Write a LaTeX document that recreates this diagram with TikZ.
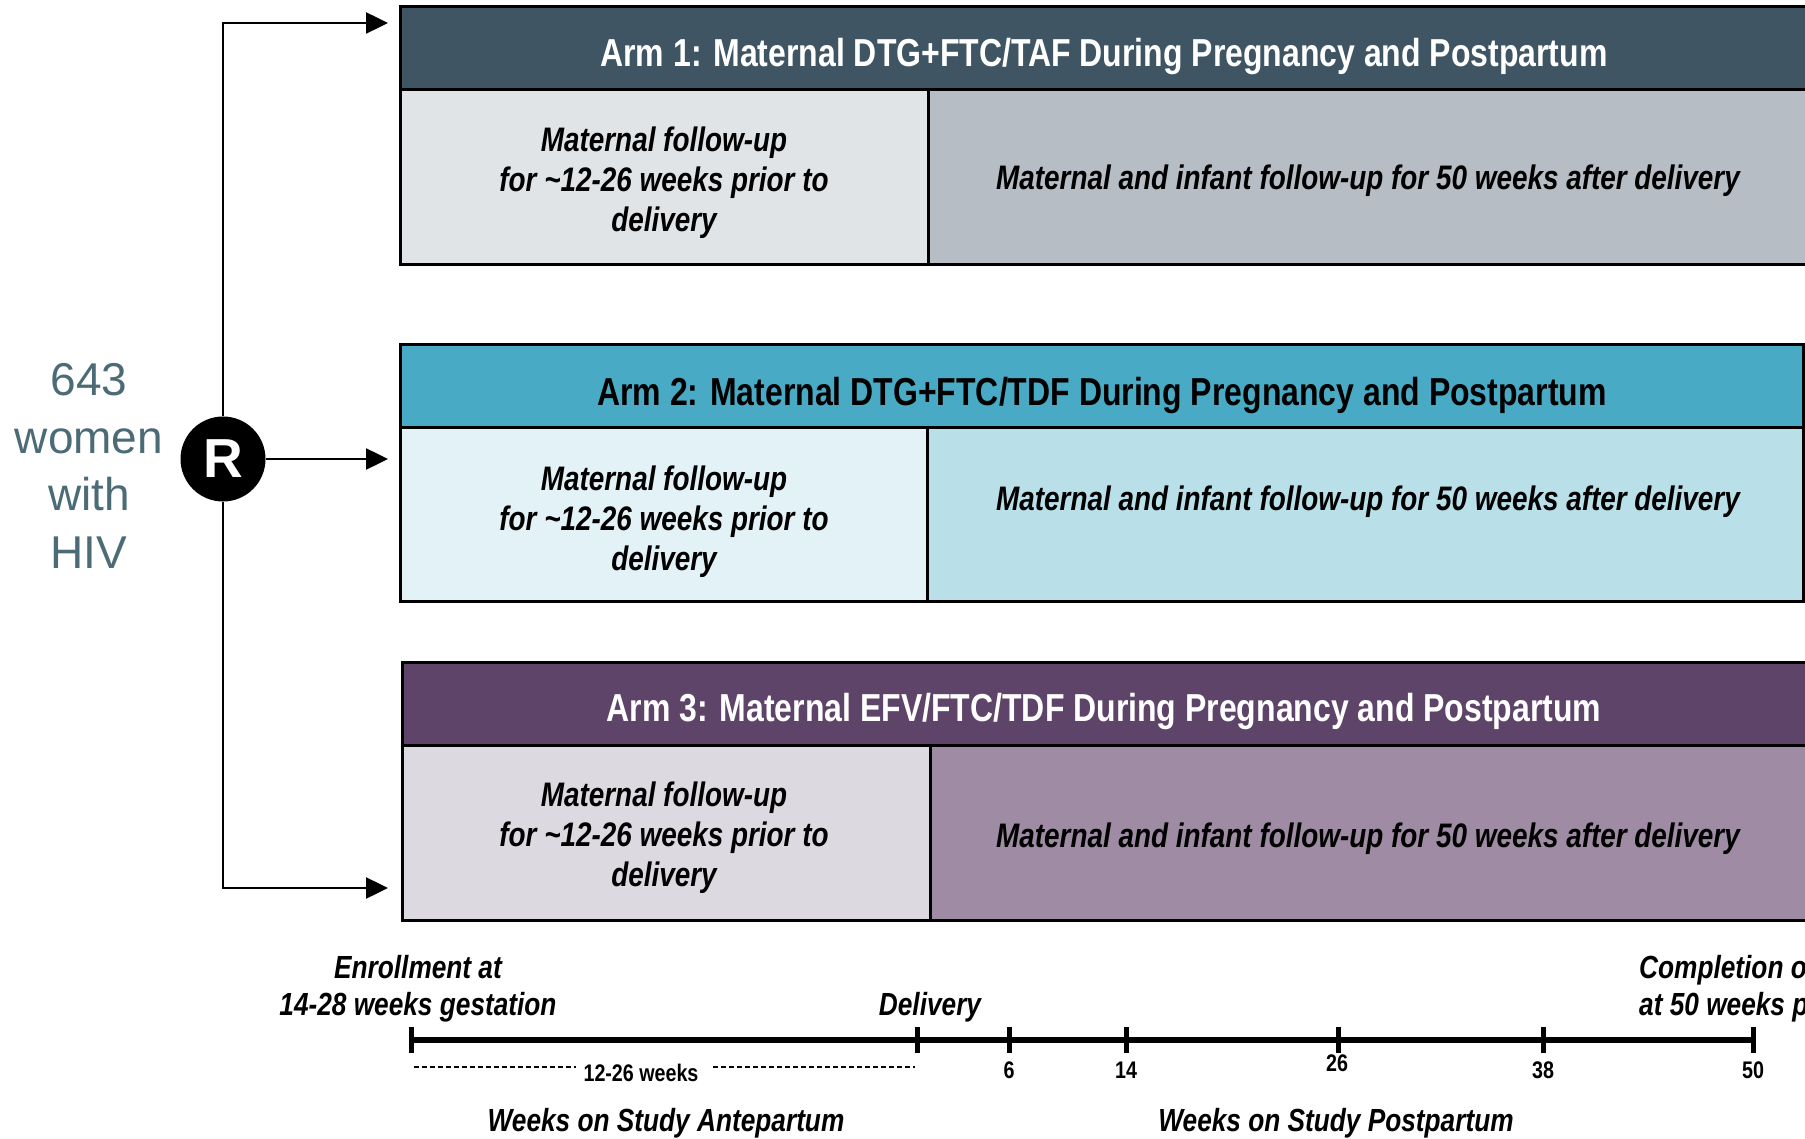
\documentclass[tikz,border=0pt]{standalone}
\usepackage{fontspec}
\setmainfont{Liberation Sans}
\newfontfamily\nar[FakeStretch=0.82]{Liberation Sans}
\usetikzlibrary{arrows.meta}
\definecolor{hA}{HTML}{3F5563}
\definecolor{lA}{HTML}{E1E4E7}
\definecolor{rA}{HTML}{B6BDC5}
\definecolor{hB}{HTML}{48AAC4}
\definecolor{lB}{HTML}{E3F2F7}
\definecolor{rB}{HTML}{B9E0E9}
\definecolor{hC}{HTML}{5E4469}
\definecolor{lC}{HTML}{DDD9E0}
\definecolor{rC}{HTML}{9F8BA3}
\definecolor{slate}{HTML}{4B6B77}
\tikzset{
  cellbox/.style={draw=black, line width=3pt},
  headtxt/.style={font=\nar\bfseries\fontsize{39}{44}\selectfont, inner sep=0pt},
  celltxt/.style={font=\nar\bfseries\itshape\fontsize{34}{40}\selectfont, align=center, inner sep=0pt},
  labtxt/.style={font=\nar\bfseries\itshape\fontsize{32}{37}\selectfont, align=center, inner sep=0pt},
  ticktxt/.style={font=\nar\bfseries\fontsize{24}{28}\selectfont, inner sep=0pt},
  conn/.style={line width=2.5pt, -{Triangle[length=22pt,width=21pt]}},
}
\begin{document}
\begin{tikzpicture}[x=1pt,y=-1pt]
\useasboundingbox (0,0) rectangle (1805,1139);
% Arm 1
\draw[cellbox, fill=hA] (400,7) rectangle (1815,90);
\draw[cellbox, fill=lA] (400,90) rectangle (928,265);
\draw[cellbox, fill=rA] (928,90) rectangle (1815,265);
\node[headtxt, text=white] (h1) at (1104,57) {Arm 1: Maternal DTG+FTC/TAF During Pregnancy and Postpartum};
\node[celltxt] (l1) at (664,183) {Maternal follow-up\\for \textasciitilde12-26 weeks prior to\\delivery};
\node[celltxt] (r1) at (1368,181) {Maternal and infant follow-up for 50 weeks after delivery};
% Arm 2
\draw[cellbox, fill=hB] (400,345) rectangle (1803,428);
\draw[cellbox, fill=lB] (400,428) rectangle (927,601);
\draw[cellbox, fill=rB] (927,428) rectangle (1803,601);
\node[headtxt, text=black] (h2) at (1102,396) {Arm 2: Maternal DTG+FTC/TDF During Pregnancy and Postpartum};
\node[celltxt] (l2) at (664,522) {Maternal follow-up\\for \textasciitilde12-26 weeks prior to\\delivery};
\node[celltxt] (r2) at (1368,502) {Maternal and infant follow-up for 50 weeks after delivery};
% Arm 3
\draw[cellbox, fill=hC] (402,662) rectangle (1815,745);
\draw[cellbox, fill=lC] (402,745) rectangle (930,920);
\draw[cellbox, fill=rC] (930,745) rectangle (1815,920);
\node[headtxt, text=white] (h3) at (1104,712) {Arm 3: Maternal EFV/FTC/TDF During Pregnancy and Postpartum};
\node[celltxt] (l3) at (664,838) {Maternal follow-up\\for \textasciitilde12-26 weeks prior to\\delivery};
\node[celltxt] (r3) at (1368,839) {Maternal and infant follow-up for 50 weeks after delivery};
% left text
\node[font=\fontsize{46}{57.5}\selectfont, text=slate, align=center, inner sep=0pt] (pop) at (89,466) {643\\women\\with\\HIV};
% randomisation
\node[circle, fill=black, minimum size=85pt, inner sep=0pt, text=white, font=\bfseries\fontsize{55}{60}\selectfont] (R) at (223,459) {R};
\coordinate (ctop) at (223,23);
\coordinate (cbot) at (223,888);
\coordinate (t1) at (388,23);
\coordinate (t2) at (388,459);
\coordinate (t3) at (388,888);
\draw[conn] (R.north) -- (ctop) -- (t1);
\draw[conn] (R.east) -- (t2);
\draw[conn] (R.south) -- (cbot) -- (t3);
% timeline
\coordinate (a0) at (411,1040);
\coordinate (a50) at (1753,1040);
\draw[line width=6pt] (a0) -- (a50);
\foreach \x/\n in {411/s,917/d,1009/w6,1126/w14,1338/w26,1543/w38,1753/w50}
  \draw[line width=5pt] (\x,1027) -- (\x,1053);
\node[ticktxt] (k6) at (1009,1070) {6};
\node[ticktxt] (k14) at (1126,1070) {14};
\node[ticktxt] (k26) at (1337,1063) {26};
\node[ticktxt] (k38) at (1543,1070) {38};
\node[ticktxt] (k50) at (1753,1070) {50};
\node[ticktxt] (span) at (641,1073) {12-26 weeks};
\coordinate (ds0) at (414,1067);
\coordinate (ds1) at (576,1067);
\coordinate (ds2) at (713,1067);
\coordinate (ds3) at (915,1067);
\draw[line width=1.5pt, dash pattern=on 5pt off 3pt] (ds0) -- (ds1);
\draw[line width=1.5pt, dash pattern=on 5pt off 3pt] (ds2) -- (ds3);
\node[labtxt] (enr) at (418,989) {Enrollment at\\14-28 weeks gestation};
\node[labtxt] (del) at (930,1007) {Delivery};
\node[labtxt, align=left, anchor=west] (comp) at (1639,989) {Completion o\\at 50 weeks p};
\node[labtxt] (ante) at (666,1123) {Weeks on Study Antepartum};
\node[labtxt] (post) at (1336,1123) {Weeks on Study Postpartum};
\end{tikzpicture}
\end{document}
